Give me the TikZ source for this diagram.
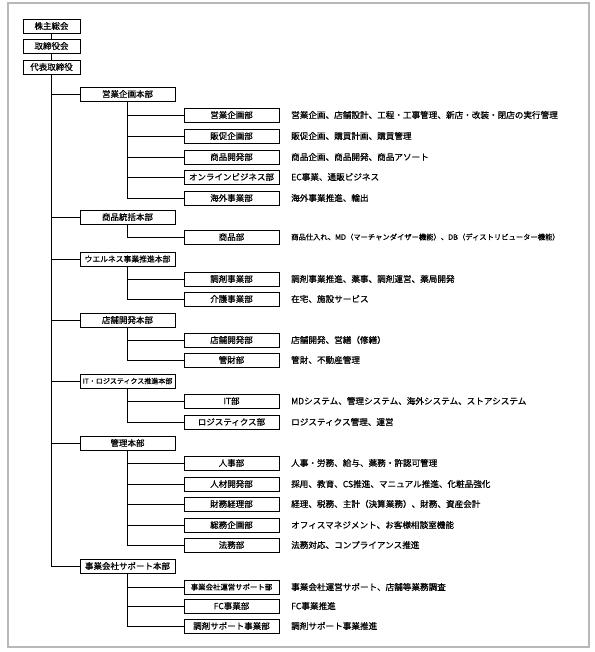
\documentclass[tikz,border=0pt]{standalone}
\usepackage{fontspec}
\setmainfont{Noto Sans CJK JP}[FakeBold=0.6,BoldFont={Noto Sans CJK JP}]
\begin{document}
\begin{tikzpicture}[x=1pt,y=-1pt,
  box/.style={draw, line width=0.9pt, inner sep=0pt, minimum height=14pt, font=\fontsize{8.5}{9}\selectfont\bfseries},
  bzero/.style={box, minimum width=57pt},
  bone/.style={box, minimum width=95pt},
  btwo/.style={box, minimum width=95pt},
  desc/.style={anchor=west, inner sep=0pt, font=\fontsize{8.6}{9}\selectfont\bfseries},
  conn/.style={line width=0.8pt}]
\useasboundingbox (0,0) rectangle (594,652);
\draw[black!28, line width=1.6pt] (8,3) rectangle (589,647);
% top
\node[bzero] (kabu) at (51.5,26) {株主総会};
\node[bzero] (tori) at (51.5,46) {取締役会};
\node[bzero] (dai) at (51.5,67) {代表取締役};
\draw[conn] (kabu) -- (tori);
\draw[conn] (tori) -- (dai);
% level 1
\node[bone] (h1) at (127.5,94) {営業企画本部};
\node[bone] (h2) at (127.5,217) {商品統括本部};
\node[bone, font=\fontsize{7.8}{9}\selectfont\bfseries] (h3) at (127.5,259) {ウエルネス事業推進本部};
\node[bone] (h4) at (127.5,320) {店舗開発本部};
\node[bone, font=\fontsize{7}{9}\selectfont\bfseries] (h5) at (127.5,381) {IT・ロジスティクス推進本部};
\node[bone] (h6) at (127.5,443) {管理本部};
\node[bone] (h7) at (127.5,566) {事業会社サポート本部};
\foreach \h in {h1,h2,h3,h4,h5,h6,h7} \draw[conn] (dai.south) |- (\h.west);
% level 2
\foreach \n/\y/\p/\lab/\d in {
  a1/115/h1/営業企画部/営業企画、店舗設計、工程・工事管理、新店・改装・閉店の実行管理,
  a2/136/h1/販促企画部/販促企画、購買計画、購買管理,
  a3/157/h1/商品開発部/商品企画、商品開発、商品アソート,
  a4/177/h1/オンラインビジネス部/EC事業、通販ビジネス,
  a5/198/h1/海外事業部/海外事業推進、輸出,
  c1/279/h3/調剤事業部/調剤事業推進、薬事、調剤運営、薬局開発,
  c2/299/h3/介護事業部/在宅、施設サービス,
  d1/340/h4/店舗開発部/店舗開発、営繕（修繕）,
  d2/360/h4/管財部/管財、不動産管理,
  e1/401/h5/IT部/MDシステム、管理システム、海外システム、ストアシステム,
  e2/422/h5/ロジスティクス部/ロジスティクス管理、運営,
  f1/463/h6/人事部/人事・労務、給与、薬務・許認可管理,
  f2/484/h6/人材開発部/採用、教育、CS推進、マニュアル推進、化粧品強化,
  f3/504/h6/財務経理部/経理、税務、主計（決算業務）、財務、資産会計,
  f4/525/h6/総務企画部/オフィスマネジメント、お客様相談室機能,
  f5/545/h6/法務部/法務対応、コンプライアンス推進,
  g2/606/h7/FC事業部/FC事業推進,
  g3/626/h7/調剤サポート事業部/調剤サポート事業推進} {
  \node[btwo] (\n) at (231.5,\y) {\lab};
  \node[desc] (\n t) at (291,\y) {\d};
  \draw[conn] (\p.south) |- (\n.west);
}
\node[btwo] (b1) at (231.5,237) {商品部};
\node[desc, font=\fontsize{7.3}{9}\selectfont\bfseries] (b1t) at (291,237) {商品仕入れ、MD（マーチャンダイザー機能）、DB（ディストリビューター機能）};
\draw[conn] (h2.south) |- (b1.west);
\node[btwo, font=\fontsize{7.4}{9}\selectfont\bfseries] (g1) at (231.5,587) {事業会社運営サポート部};
\node[desc] (g1t) at (291,587) {事業会社運営サポート、店舗等業務調査};
\draw[conn] (h7.south) |- (g1.west);
\end{tikzpicture}
\end{document}
